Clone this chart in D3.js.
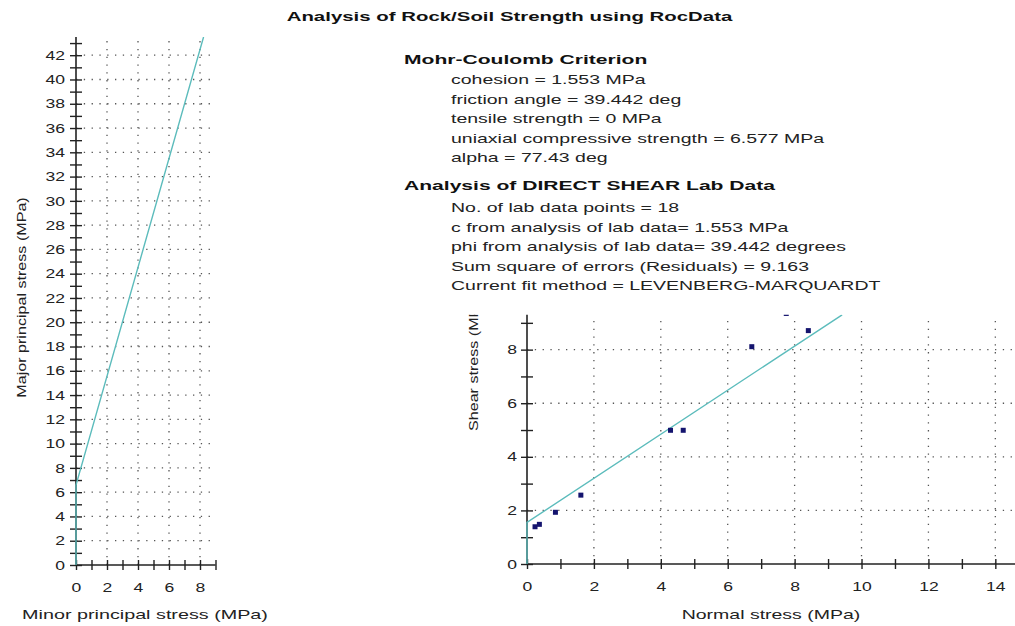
<!DOCTYPE html>
<html><head><meta charset="utf-8">
<script src="https://cdn.jsdelivr.net/npm/d3@7"></script>
<style>
html,body{margin:0;padding:0;background:#fff;}
svg{display:block;font-family:"Liberation Sans",Arial,sans-serif;}
</style></head>
<body>
<svg id="chart" width="1015" height="626"></svg>
<script>
// ---------- DATA ----------
const title = "Analysis of Rock/Soil Strength using RocData";

// Principal stress envelope (left plot)
const minorStress = [0, 0, 8.23];
const majorStress = [0, 6.577, 43.5];
const leftXTicks = [0, 2, 4, 6, 8];
const leftYTicks = [0, 2, 4, 6, 8, 10, 12, 14, 16, 18, 20, 22, 24, 26, 28, 30, 32, 34, 36, 38, 40, 42];

// Shear envelope (right plot)
const envNormal = [0, 0, 9.42];
const envShear = [0, 1.553, 9.3];
const labNormal = [0.24, 0.37, 0.85, 1.61, 4.29, 4.67, 6.72, 7.75, 8.41];
const labShear  = [1.39, 1.48, 1.93, 2.57, 4.99, 4.99, 8.11, 9.35, 8.71];
const rightXTicks = [0, 2, 4, 6, 8, 10, 12, 14];
const rightYTicks = [0, 2, 4, 6, 8];

// Text block
const mcHeader = "Mohr-Coulomb Criterion";
const mcLines = [
  "cohesion = 1.553 MPa",
  "friction angle = 39.442 deg",
  "tensile strength = 0 MPa",
  "uniaxial compressive strength = 6.577 MPa",
  "alpha = 77.43 deg"
];
const dsHeader = "Analysis of DIRECT SHEAR Lab Data";
const dsLines = [
  "No. of lab data points = 18",
  "c from analysis of lab data= 1.553 MPa",
  "phi from analysis of lab data= 39.442 degrees",
  "Sum square of errors (Residuals) = 9.163",
  "Current fit method = LEVENBERG-MARQUARDT"
];

// ---------- DRAW ----------
const svg = d3.select("#chart");
const FS = 13;
const lineColor = "#5cbcbc";
const gridColor = "#555";
const axisColor = "#222";

function stretch(sel, sx) {
  sel.each(function () {
    const t = d3.select(this);
    const x = +t.attr("x") || 0, y = +t.attr("y") || 0;
    t.attr("x", 0).attr("y", 0).attr("transform", `translate(${x},${y}) scale(${sx},1)`);
  });
}

// Title
svg.append("text").attr("transform", "translate(509.5,21) scale(1.57,1)")
  .attr("text-anchor", "middle").attr("font-weight", "bold").attr("font-size", FS)
  .attr("fill", "#111").text(title);

// ===== LEFT PLOT =====
const xL = d3.scaleLinear().domain([0, 9]).range([76, 215.5]);
const yL = d3.scaleLinear().domain([0, 43.5]).range([565, 37]);

const gL = svg.append("g");
// grid
gL.append("g").selectAll("line").data(leftXTicks.filter(d => d > 0)).join("line")
  .attr("x1", d => xL(d)).attr("x2", d => xL(d)).attr("y1", yL(0)).attr("y2", yL(43.5))
  .attr("stroke", gridColor).attr("stroke-width", 1.3).attr("stroke-dasharray", "1.3,6.5");
gL.append("g").selectAll("line").data(leftYTicks.filter(d => d > 0)).join("line")
  .attr("x1", xL(0)).attr("x2", xL(9)).attr("y1", d => yL(d)).attr("y2", d => yL(d))
  .attr("stroke", gridColor).attr("stroke-width", 1.3).attr("stroke-dasharray", "1.3,6.5");

// axes
const axLy = gL.append("g").attr("transform", `translate(${xL(0)},0)`)
  .call(d3.axisLeft(yL).tickValues(d3.range(0, 44, 1)).tickSize(6).tickPadding(5)
    .tickFormat(d => leftYTicks.includes(d) ? d : ""));
const axLx = gL.append("g").attr("transform", `translate(0,${yL(0)})`)
  .call(d3.axisBottom(xL).tickValues(d3.range(0, 10, 1)).tickSize(5).tickPadding(14)
    .tickFormat(d => leftXTicks.includes(d) ? d : ""));

// ===== RIGHT PLOT =====
const xR = d3.scaleLinear().domain([0, 14.6]).range([527, 1015.4]);
const yR = d3.scaleLinear().domain([0, 9.3]).range([564, 314.8]);

const defs = svg.append("defs");
defs.append("clipPath").attr("id", "clipR").append("rect")
  .attr("x", xR(0) - 3).attr("y", yR(9.3)).attr("width", 1015 - xR(0) + 3).attr("height", yR(0) - yR(9.3) + 1);
defs.append("clipPath").attr("id", "clipL").append("rect")
  .attr("x", xL(0) - 3).attr("y", yL(43.5)).attr("width", xL(9) - xL(0) + 3).attr("height", yL(0) - yL(43.5) + 1);
defs.append("clipPath").attr("id", "clipLabel").append("rect")
  .attr("x", 440).attr("y", yR(9.3)).attr("width", 80).attr("height", 300);

const gR = svg.append("g");
gR.append("g").selectAll("line").data(rightXTicks.filter(d => d > 0)).join("line")
  .attr("x1", d => xR(d)).attr("x2", d => xR(d)).attr("y1", yR(0)).attr("y2", yR(9.3))
  .attr("stroke", gridColor).attr("stroke-width", 1.3).attr("stroke-dasharray", "1.3,6.5");
gR.append("g").selectAll("line").data(rightYTicks.filter(d => d > 0)).join("line")
  .attr("x1", xR(0)).attr("x2", 1015).attr("y1", d => yR(d)).attr("y2", d => yR(d))
  .attr("stroke", gridColor).attr("stroke-width", 1.3).attr("stroke-dasharray", "1.3,6.5");

const axRy = gR.append("g").attr("transform", `translate(${xR(0)},0)`)
  .call(d3.axisLeft(yR).tickValues(d3.range(0, 10, 1)).tickSize(6).tickPadding(4)
    .tickFormat(d => rightYTicks.includes(d) ? d : ""));
const axRx = gR.append("g").attr("transform", `translate(0,${yR(0)})`)
  .call(d3.axisBottom(xR).tickValues(d3.range(0, 15, 1)).tickSize(5).tickPadding(14)
    .tickFormat(d => rightXTicks.includes(d) ? d : ""));

// style axes
[axLy, axLx, axRy, axRx].forEach(a => {
  a.select(".domain").attr("stroke", axisColor).attr("stroke-width", 1.6);
  a.selectAll(".tick line").attr("stroke", axisColor).attr("stroke-width", 1.4);
  a.selectAll("text").attr("font-size", FS).attr("fill", "#222").attr("font-family", "Liberation Sans, Arial, sans-serif");
});
[axLy, axRy].forEach(a => { a.select(".domain").attr("d", null).remove(); a.selectAll(".tick line").attr("x1", -6).attr("x2", 6); });
[axLx, axRx].forEach(a => { a.select(".domain").remove(); a.selectAll(".tick line").attr("y1", -5).attr("y2", 5); });
// axis lines
gL.append("line").attr("x1", xL(0)).attr("x2", xL(0)).attr("y1", yL(0)).attr("y2", yL(43.5)).attr("stroke", axisColor).attr("stroke-width", 1.6);
gL.append("line").attr("x1", xL(0)).attr("x2", xL(9)).attr("y1", yL(0)).attr("y2", yL(0)).attr("stroke", axisColor).attr("stroke-width", 1.6);
gR.append("line").attr("x1", xR(0)).attr("x2", xR(0)).attr("y1", yR(0)).attr("y2", yR(9.3)).attr("stroke", axisColor).attr("stroke-width", 1.6);
gR.append("line").attr("x1", xR(0)).attr("x2", 1015).attr("y1", yR(0)).attr("y2", yR(0)).attr("stroke", axisColor).attr("stroke-width", 1.6);

axLy.selectAll("text").attr("x", -11).call(stretch, 1.35);
axRy.selectAll("text").attr("x", -10).call(stretch, 1.35);
axLx.selectAll("text").attr("y", 18).call(stretch, 1.35);
axRx.selectAll("text").attr("y", 18).call(stretch, 1.35);

// envelopes
const lineGen = (xs, ys, x, y) => d3.line().x((d, i) => x(xs[i])).y((d, i) => y(ys[i]))(xs);
gL.append("path").attr("d", lineGen(minorStress, majorStress, xL, yL))
  .attr("clip-path", "url(#clipL)").attr("fill", "none").attr("stroke", lineColor).attr("stroke-width", 1.4);
gR.append("path").attr("d", lineGen(envNormal, envShear, xR, yR))
  .attr("clip-path", "url(#clipR)").attr("fill", "none").attr("stroke", lineColor).attr("stroke-width", 1.4);

// lab points
gR.append("g").attr("clip-path", "url(#clipR)").selectAll("rect").data(labNormal).join("rect")
  .attr("x", d => xR(d) - 2.5).attr("y", (d, i) => yR(labShear[i]) - 2.5)
  .attr("width", 5).attr("height", 5).attr("fill", "#14146e");

// axis titles
svg.append("text").attr("transform", "translate(26,297.5) rotate(-90) scale(1.24,1)")
  .attr("text-anchor", "middle").attr("font-size", FS).attr("fill", "#222")
  .text("Major principal stress (MPa)");
svg.append("text").attr("transform", "translate(145,619) scale(1.52,1)")
  .attr("text-anchor", "middle").attr("font-size", FS).attr("fill", "#222")
  .text("Minor principal stress (MPa)");
svg.append("text").attr("transform", "translate(771,619) scale(1.5,1)")
  .attr("text-anchor", "middle").attr("font-size", FS).attr("fill", "#222")
  .text("Normal stress (MPa)");
svg.append("g").attr("clip-path", "url(#clipLabel)").append("text")
  .attr("transform", "translate(478,431) rotate(-90) scale(1.24,1)")
  .attr("text-anchor", "start").attr("font-size", FS).attr("fill", "#222")
  .text("Shear stress (MPa)");

// text block
const tb = svg.append("g");
function header(txt, y) {
  tb.append("text").attr("transform", `translate(404,${y}) scale(1.62,1)`)
    .attr("font-weight", "bold").attr("font-size", FS).attr("fill", "#111").text(txt);
}
function body(lines, y0) {
  tb.selectAll(null).data(lines).join("text")
    .attr("transform", (d, i) => `translate(451,${y0 + i * 19.6}) scale(1.5,1)`)
    .attr("font-size", FS).attr("fill", "#222").text(d => d);
}
header(mcHeader, 64);
body(mcLines, 84);
header(dsHeader, 190);
body(dsLines, 212);
</script>
</body></html>
